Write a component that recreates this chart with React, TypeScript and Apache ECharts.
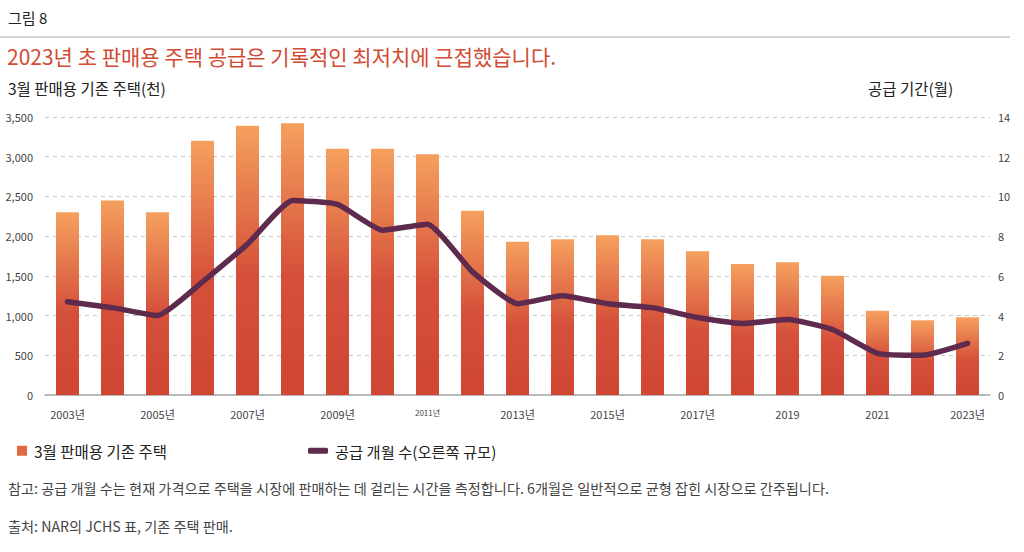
import React, { useEffect, useRef } from "react";
import * as echarts from "echarts";

const categories = [
  "2003년", "2004", "2005년", "2006", "2007년", "2008", "2009년", "2010",
  "2011년", "2012", "2013년", "2014", "2015년", "2016", "2017년", "2018",
  "2019", "2020", "2021", "2022", "2023년",
];
const homesForSale = [
  2300, 2450, 2300, 3200, 3390, 3420, 3100, 3100, 3030, 2320, 1930, 1960,
  2010, 1960, 1810, 1650, 1670, 1500, 1060, 940, 980,
];
const monthsSupply = [
  4.7, 4.4, 4.0, 5.7, 7.6, 9.8, 9.6, 8.3, 8.6, 6.2, 4.6, 5.0, 4.6, 4.4, 3.9,
  3.6, 3.8, 3.3, 2.1, 2.0, 2.6,
];

const barName = "3월 판매용 기존 주택";
const lineName = "공급 개월 수(오른쪽 규모)";
const figLabel = "그림 8";
const titleText = "2023년 초 판매용 주택 공급은 기록적인 최저치에 근접했습니다.";
const leftAxisTitle = "3월 판매용 기존 주택(천)";
const rightAxisTitle = "공급 기간(월)";
const noteText =
  "참고: 공급 개월 수는 현재 가격으로 주택을 시장에 판매하는 데 걸리는 시간을 측정합니다. 6개월은 일반적으로 균형 잡힌 시장으로 간주됩니다.";
const sourceText = "출처: NAR의 JCHS 표, 기존 주택 판매.";

const FONT = '"Noto Sans CJK KR", "Noto Sans", sans-serif';

export default function App() {
  const ref = useRef<HTMLDivElement>(null);
  useEffect(() => {
    if (!ref.current) return;
    const chart = echarts.init(ref.current, undefined, { renderer: "svg" });
    const barGradient = new echarts.graphic.LinearGradient(0, 0, 0, 1, [
      { offset: 0, color: "#f5a05e" },
      { offset: 0.55, color: "#d5503a" },
      { offset: 1, color: "#cf4633" },
    ]);
    chart.setOption({
      animation: false,
      backgroundColor: "#ffffff",
      textStyle: { fontFamily: FONT },
      grid: { left: 45, right: 34, top: 117, bottom: 157, containLabel: false },
      legend: [
        {
          left: 17,
          top: 443,
          padding: 0,
          itemWidth: 10,
          itemHeight: 10,
          icon: "rect",
          data: [{ name: barName, itemStyle: { color: "#e2683f" } }],
          textStyle: { fontSize: 15.5, color: "#222", fontFamily: FONT, padding: [0, 0, 0, 2] },
        },
        {
          left: 308,
          top: 443,
          padding: 0,
          itemWidth: 20,
          itemHeight: 6,
          icon: "roundRect",
          data: [{ name: lineName, itemStyle: { color: "#5e2a4d" } }],
          textStyle: { fontSize: 15.3, color: "#222", fontFamily: FONT, padding: [0, 0, 0, 2] },
        },
      ],
      xAxis: {
        type: "category",
        data: categories,
        boundaryGap: true,
        axisLine: { lineStyle: { color: "#a8a8a8", width: 1.5 } },
        axisTick: { show: false },
        axisLabel: {
          interval: 1,
          color: "#444",
          fontSize: 11,
          fontFamily: FONT,
          margin: 13,
          formatter: (v: string) => (v === "2011년" ? "{s|" + v + "}" : v),
          rich: { s: { fontSize: 8, color: "#444", fontFamily: FONT } },
        },
      },
      yAxis: [
        {
          type: "value",
          min: 0,
          max: 3500,
          interval: 500,
          axisLine: { show: false },
          axisTick: { show: false },
          axisLabel: {
            color: "#444",
            fontSize: 11,
            fontFamily: FONT,
            margin: 12,
            formatter: (v: number) => v.toLocaleString("en-US"),
          },
          splitLine: { lineStyle: { color: "#c8c8c8", type: [4, 4], width: 1 } },
        },
        {
          type: "value",
          min: 0,
          max: 14,
          interval: 2,
          position: "right",
          axisLine: { show: false },
          axisTick: { show: false },
          axisLabel: { color: "#444", fontSize: 11, fontFamily: FONT, margin: 8 },
          splitLine: { show: false },
        },
      ],
      series: [
        {
          name: barName,
          type: "bar",
          data: homesForSale,
          barWidth: 23,
          itemStyle: { color: barGradient },
          yAxisIndex: 0,
        },
        {
          name: lineName,
          type: "line",
          data: monthsSupply,
          yAxisIndex: 1,
          showSymbol: false,
          symbol: "none",
          smooth: 0.15,
          lineStyle: { color: "#5e2a4d", width: 5.5, cap: "round", join: "round" },
          itemStyle: { color: "#5e2a4d" },
        },
      ],
      graphic: [
        {
          type: "text",
          left: 8,
          top: 10,
          style: { text: figLabel, font: `15px ${FONT}`, fill: "#222" },
        },
        {
          type: "line",
          shape: { x1: 0, y1: 37, x2: 1010, y2: 37 },
          style: { stroke: "#c8c8c8", lineWidth: 1.5 },
        },
        {
          type: "text",
          left: 7,
          top: 45,
          style: { text: titleText, font: `21px ${FONT}`, fill: "#d24b35" },
        },
        {
          type: "text",
          left: 8,
          top: 80,
          style: { text: leftAxisTitle, font: `15.5px ${FONT}`, fill: "#222" },
        },
        {
          type: "text",
          left: 868,
          top: 80,
          style: { text: rightAxisTitle, font: `15.5px ${FONT}`, fill: "#222" },
        },
        {
          type: "text",
          left: 8,
          top: 481,
          style: { text: noteText, font: `14.2px ${FONT}`, fill: "#444" },
        },
        {
          type: "text",
          left: 8,
          top: 519,
          style: { text: sourceText, font: `14.2px ${FONT}`, fill: "#444" },
        },
      ],
    });
    return () => chart.dispose();
  }, []);
  return (
    <div
      ref={ref}
      style={{ position: "absolute", left: 0, top: 0, width: 1024, height: 552 }}
    />
  );
}
